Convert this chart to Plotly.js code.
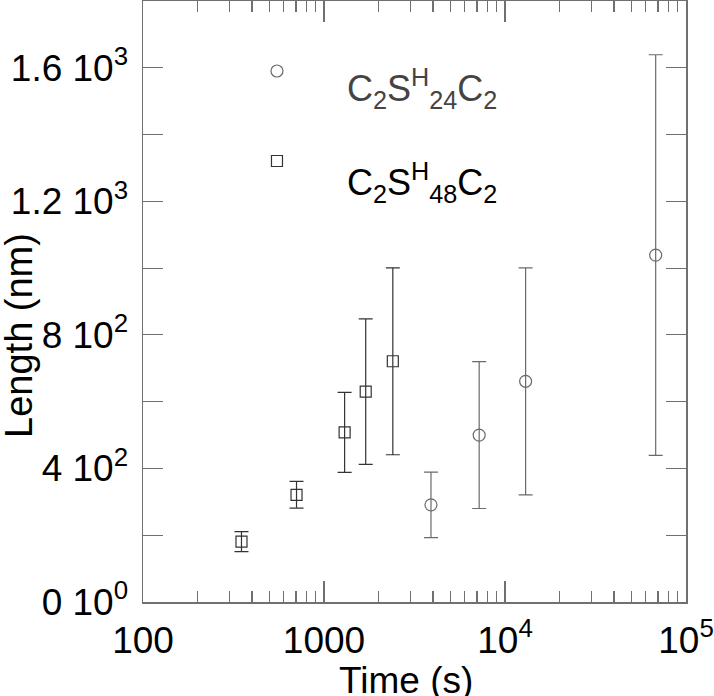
<!DOCTYPE html>
<html>
<head>
<meta charset="utf-8">
<script src="https://cdn.plot.ly/plotly-3.0.1.min.js"></script>
<style>html,body{margin:0;padding:0;background:#fff;}#chart{width:714px;height:696px;}</style>
</head>
<body>
<div id="chart"></div>
<script>
// C2SH24C2 (circles)
const time24 = [3900, 7200, 13000, 68000];
const length24 = [291, 500, 661, 1039];
const err24 = [98, 220, 340, 600];
// C2SH48C2 (squares)
const time48 = [350, 705, 1300, 1700, 2400];
const length48 = [181, 321, 508, 630, 721];
const err48 = [30, 40, 120, 218, 280];

const label24 = 'C<sub>2</sub>S<sup>H</sup><sub>24</sub>C<sub>2</sub>';
const label48 = 'C<sub>2</sub>S<sup>H</sup><sub>48</sub>C<sub>2</sub>';

const xTickVals = [100, 1000, 10000, 100000];
const xTickText = ['100', '1000', '10<sup>4</sup>', '10<sup>5</sup>'];
const yTickVals = [0, 200, 400, 600, 800, 1000, 1200, 1400, 1600, 1800];
const yTickText = ['0 10<sup>0</sup>', '', '4 10<sup>2</sup>', '', '8 10<sup>2</sup>', '', '1.2 10<sup>3</sup>', '', '1.6 10<sup>3</sup>', ''];

const xMinor = [];
for (let d = 100; d < 100000; d *= 10) for (let k = 2; k <= 9; k++) xMinor.push(d * k);

const FONT = 'Liberation Sans, Arial, sans-serif';
const gray24 = '#6a6a6a';
const dark48 = '#333333';

const traces = [
  {
    x: time24, y: length24, type: 'scatter', mode: 'markers', name: ' ',
    legend: 'legend',
    marker: {symbol: 'circle-open', size: 12, color: gray24, line: {width: 1.2, color: gray24}},
    error_y: {type: 'data', array: err24, visible: true, color: gray24, thickness: 1.2, width: 7}
  },
  {
    x: time48, y: length48, type: 'scatter', mode: 'markers', name: ' ',
    legend: 'legend2',
    marker: {symbol: 'square-open', size: 11, color: dark48, line: {width: 1.2, color: dark48}},
    error_y: {type: 'data', array: err48, visible: true, color: dark48, thickness: 1.2, width: 7}
  }
];

const axisCol = '#707070';
const layout = {
  width: 714, height: 696,
  margin: {l: 143, r: 28, t: 1, b: 94},
  paper_bgcolor: '#fff', plot_bgcolor: '#fff',
  font: {family: FONT, color: '#000'},
  showlegend: true,
  xaxis: {
    type: 'log', range: [2, 5],
    tickmode: 'array', tickvals: xTickVals, ticktext: xTickText,
    ticks: 'inside', ticklen: 21, tickwidth: 1.2, tickcolor: axisCol,
    minor: {tickvals: xMinor, ticks: 'inside', ticklen: 11, tickwidth: 1.2, tickcolor: axisCol, showgrid: false},
    showline: true, linecolor: axisCol, linewidth: 1.5, mirror: 'ticks',
    showgrid: false, zeroline: false, ticklabelstandoff: 5,
    tickfont: {size: 37, family: FONT, color: '#000'}
  },
  yaxis: {
    range: [0, 1800],
    tickmode: 'array', tickvals: yTickVals, ticktext: yTickText,
    ticks: 'inside', ticklen: 20, tickwidth: 1.2, tickcolor: axisCol,
    showline: true, linecolor: axisCol, linewidth: 1.5, mirror: 'ticks',
    showgrid: false, zeroline: false, ticklabelstandoff: 6,
    tickfont: {size: 37, family: FONT, color: '#000'}
  },
  legend: {
    x: 0.1215, y: 0.8835, xanchor: 'left', yanchor: 'middle',
    itemwidth: 126, bgcolor: 'rgba(0,0,0,0)', borderwidth: 0,
    font: {size: 12, family: FONT, color: '#444444'}
  },
  legend2: {
    x: 0.1215, y: 0.7338, xanchor: 'left', yanchor: 'middle',
    itemwidth: 126, bgcolor: 'rgba(0,0,0,0)', borderwidth: 0,
    font: {size: 12, family: FONT, color: '#000000'}
  },
  annotations: [
    {text: label24, xref: 'paper', yref: 'paper', x: 0.372, y: 0.8552, xanchor: 'left', yanchor: 'middle',
     showarrow: false, font: {size: 36, family: FONT, color: '#444444'}},
    {text: label48, xref: 'paper', yref: 'paper', x: 0.372, y: 0.6988, xanchor: 'left', yanchor: 'middle',
     showarrow: false, font: {size: 36, family: FONT, color: '#000000'}},
    {text: 'Length (nm)', xref: 'paper', yref: 'paper', x: -0.2284, y: 0.4443, xanchor: 'center', yanchor: 'middle',
     textangle: -90, showarrow: false, font: {size: 38, family: FONT, color: '#000'}},
    {text: 'Time (s)', xref: 'paper', yref: 'paper', x: 0.4843, y: -0.131, xanchor: 'center', yanchor: 'middle',
     showarrow: false, font: {size: 37, family: FONT, color: '#000'}}
  ]
};

Plotly.newPlot('chart', traces, layout, {displayModeBar: false, staticPlot: true});
</script>
</body>
</html>
